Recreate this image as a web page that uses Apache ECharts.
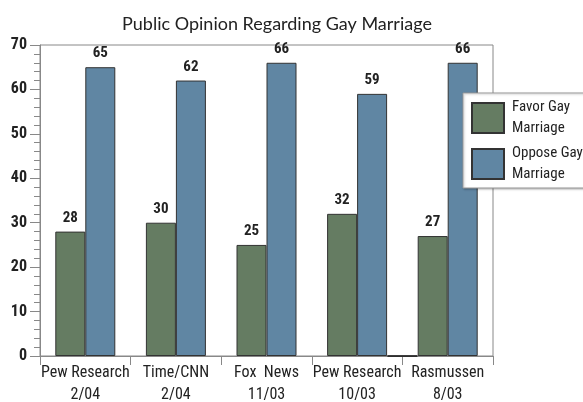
<!DOCTYPE html>
<html>
<head>
<meta charset="utf-8">
<script src="https://cdn.jsdelivr.net/npm/echarts@6/dist/echarts.min.js"></script>
<style>html,body{margin:0;padding:0;background:#fff}#c{width:583px;height:402px}</style>
</head>
<body>
<div id="c"></div>
<script>
const categories = ['Pew Research\n2/04', 'Time/CNN\n2/04', 'Fox  News\n11/03', 'Pew Research\n10/03', 'Rasmussen\n8/03'];
const favor = [28, 30, 25, 32, 27];
const oppose = [65, 62, 66, 59, 66];
const boundaries = ['b0', 'b1', 'b2', 'b3', 'b4', 'b5'];
const gapBar = [null, null, null, null, 0, null];
const yTicks = {min: 0, max: 70, interval: 10};

const narrow = '"Roboto Condensed", "DejaVu Sans Condensed", sans-serif';
const chart = echarts.init(document.getElementById('c'));
const labelStyle = {show: true, position: 'top', distance: 6, fontFamily: narrow, fontWeight: 'bold', fontSize: 15, color: '#222'};
chart.setOption({
  animation: false,
  title: {
    text: 'Public Opinion Regarding Gay Marriage',
    left: 272, top: 10, textAlign: 'center',
    textStyle: {fontFamily: 'Lato, "Open Sans", sans-serif', fontWeight: 'normal', fontSize: 18, color: '#222'}
  },
  legend: {
    data: ['Favor Gay Marriage', 'Oppose Gay Marriage'],
    orient: 'vertical', left: 463, top: 93,
    icon: 'rect',
    itemWidth: 32, itemHeight: 30, itemGap: 4,
    padding: [4, 30, 3, 8],
    backgroundColor: '#fff', borderColor: '#999', borderWidth: 1,
    shadowColor: 'rgba(0,0,0,0.25)', shadowBlur: 2, shadowOffsetX: 1, shadowOffsetY: 1,
    formatter: function (n) { return n.replace(/ Marriage$/, '\nMarriage'); },
    textStyle: {fontFamily: narrow, fontSize: 15, lineHeight: 21, color: '#222', padding: [0, 0, 0, 3]}
  },
  grid: {left: 40, right: 90, top: 45, bottom: 46, show: true, borderColor: '#888', borderWidth: 1, outerBoundsMode: 'none', containLabel: false},
  xAxis: [{
    type: 'category', data: categories,
    axisLine: {lineStyle: {color: '#888'}},
    axisTick: {show: true, length: 9, lineStyle: {color: '#888'}},
    axisLabel: {interval: 0, margin: 6, fontFamily: narrow, fontSize: 16, lineHeight: 22, color: '#222'}
  }, {
    type: 'category', data: boundaries, boundaryGap: false, show: false
  }],
  yAxis: {
    type: 'value', min: yTicks.min, max: yTicks.max, interval: yTicks.interval,
    splitLine: {show: false},
    axisLine: {show: true, lineStyle: {color: '#888'}},
    axisTick: {show: true, length: 10, lineStyle: {color: '#888'}},
    minorTick: {show: true, splitNumber: 5, length: 6, lineStyle: {color: '#888'}},
    axisLabel: {margin: 13, fontFamily: narrow, fontWeight: 'bold', fontSize: 16, color: '#222'}
  },
  series: [{
    name: 'Favor Gay Marriage', type: 'bar', data: favor, barWidth: 30, barGap: '0%',
    itemStyle: {color: '#657c62', borderColor: '#333', borderWidth: 1},
    label: labelStyle
  }, {
    name: 'Oppose Gay Marriage', type: 'bar', data: oppose, barWidth: 30, barGap: '0%',
    itemStyle: {color: '#6086a3', borderColor: '#333', borderWidth: 1},
    label: labelStyle
  }, {
    name: 'gap', type: 'bar', xAxisIndex: 1, data: gapBar, barWidth: 30,
    itemStyle: {color: '#fff', borderColor: '#111', borderWidth: 1.5}
  }]
});
</script>
</body>
</html>
